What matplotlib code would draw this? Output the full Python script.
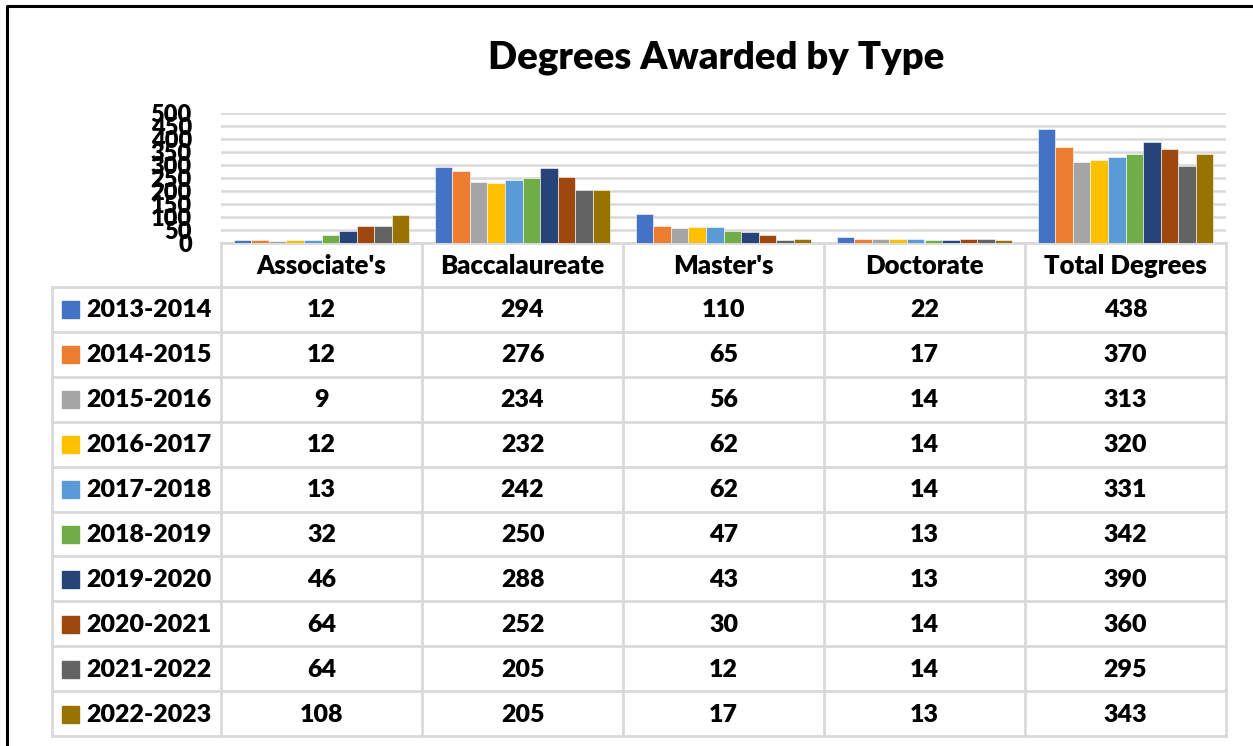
import numpy as np
import matplotlib.pyplot as plt

years = ["2013-2014", "2014-2015", "2015-2016", "2016-2017", "2017-2018",
         "2018-2019", "2019-2020", "2020-2021", "2021-2022", "2022-2023"]
categories = ["Associate's", "Baccalaureate", "Master's", "Doctorate", "Total Degrees"]

associates = [12, 12, 9, 12, 13, 32, 46, 64, 64, 108]
baccalaureate = [294, 276, 234, 232, 242, 250, 288, 252, 205, 205]
masters = [110, 65, 56, 62, 62, 47, 43, 30, 12, 17]
doctorate = [22, 17, 14, 14, 14, 13, 13, 14, 14, 13]
total = [438, 370, 313, 320, 331, 342, 390, 360, 295, 343]

colors = ["#4472C4", "#ED7D31", "#A5A5A5", "#FFC000", "#5B9BD5",
          "#70AD47", "#264478", "#9E480E", "#636363", "#997300"]

plt.rcParams['font.family'] = ['Lato', 'DejaVu Sans']
WEIGHT = 'heavy'

W, H = 1253, 746
fig = plt.figure(figsize=(W / 100, H / 100), dpi=100)

# background axes in pixel coords for title, table and frame
bg = fig.add_axes([0, 0, 1, 1])
bg.set_xlim(0, W)
bg.set_ylim(H, 0)
bg.axis('off')

grid_col = "#d9d9d9"
x_left, x0, x1 = 52, 221, 1226
y_top, y_bot, y_end = 113, 243, 736
head_h = 44
row_h = (y_end - y_bot - head_h) / len(years)

# bar chart
ax = fig.add_axes([x0 / W, 1 - y_bot / H, (x1 - x0) / W, (y_bot - y_top) / H])
data = np.array([associates, baccalaureate, masters, doctorate, total])
n = len(years)
bw = 0.875 / n
x = np.arange(len(categories))
for i in range(n):
    ax.bar(x - 0.4375 + (i + 0.5) * bw, data[:, i], width=bw, color=colors[i],
           edgecolor='white', linewidth=0.4, zorder=3)
ax.set_xlim(-0.5, len(categories) - 0.5)
ax.set_ylim(0, 500)
ax.set_yticks(range(0, 501, 50))
ax.set_xticks([])
ax.yaxis.grid(True, color=grid_col, linewidth=1.8, zorder=0)
ax.tick_params(axis='y', length=0, pad=21, labelsize=17)
for lab in ax.get_yticklabels():
    lab.set_fontweight(WEIGHT)
for s in ax.spines.values():
    s.set_visible(False)
ax.patch.set_alpha(0)

# title
bg.text(716, 58, "Degrees Awarded by Type", ha='center', va='center',
        fontsize=27.5, fontweight=WEIGHT)

# data table
col_edges = np.linspace(x0, x1, len(categories) + 1)
y_rows = y_bot + head_h + row_h * np.arange(n + 1)
lw = 2
bg.plot([x0, x1], [y_bot, y_bot], color=grid_col, lw=lw)
for yy in y_rows:
    bg.plot([x_left, x1], [yy, yy], color=grid_col, lw=lw)
for xx in col_edges:
    bg.plot([xx, xx], [y_bot, y_end], color=grid_col, lw=lw)
bg.plot([x_left, x_left], [y_rows[0], y_end], color=grid_col, lw=lw)

for j, cat in enumerate(categories):
    bg.text((col_edges[j] + col_edges[j + 1]) / 2, y_bot + head_h / 2 + 1, cat,
            ha='center', va='center', fontsize=18.5, fontweight=WEIGHT)
for i, yr in enumerate(years):
    yc = y_rows[i] + row_h / 2
    bg.add_patch(plt.Rectangle((62, yc - 8), 17, 17, color=colors[i]))
    bg.text(86, yc + 1, yr, ha='left', va='center', fontsize=18, fontweight=WEIGHT)
    for j in range(len(categories)):
        bg.text((col_edges[j] + col_edges[j + 1]) / 2, yc + 1, str(data[j, i]),
                ha='center', va='center', fontsize=18, fontweight=WEIGHT)

# outer frame (cropped at right and bottom)
bg.plot([7, 7, W + 10], [H + 10, 6, 6], color='black', lw=2.2)

fig.savefig("out.png", dpi=100)
